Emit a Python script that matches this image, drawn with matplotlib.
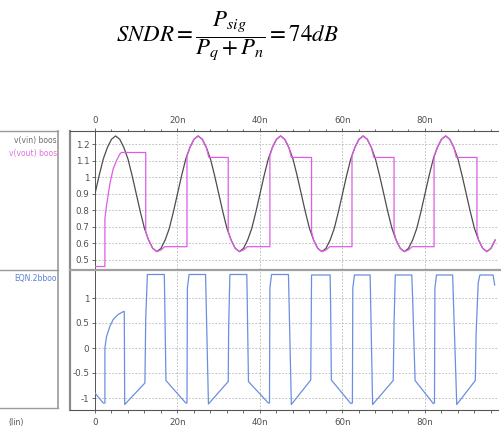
import numpy as np
import matplotlib
matplotlib.use("Agg")
from matplotlib import pyplot as plt
from matplotlib.lines import Line2D
from matplotlib.ticker import FixedLocator, MultipleLocator

# v(vin) every 1n (time in ns)
vin_t = np.arange(98)
vin_v = [0.90, 1.01, 1.11, 1.18, 1.23, 1.25, 1.23, 1.18, 1.11, 1.01, 0.90, 0.79, 0.69, 0.62, 0.57, 0.55, 0.57, 0.62, 0.69, 0.79,
         0.90, 1.01, 1.11, 1.18, 1.23, 1.25, 1.23, 1.18, 1.11, 1.01, 0.90, 0.79, 0.69, 0.62, 0.57, 0.55, 0.57, 0.62, 0.69, 0.79,
         0.90, 1.01, 1.11, 1.18, 1.23, 1.25, 1.23, 1.18, 1.11, 1.01, 0.90, 0.79, 0.69, 0.62, 0.57, 0.55, 0.57, 0.62, 0.69, 0.79,
         0.90, 1.01, 1.11, 1.18, 1.23, 1.25, 1.23, 1.18, 1.11, 1.01, 0.90, 0.79, 0.69, 0.62, 0.57, 0.55, 0.57, 0.62, 0.69, 0.79,
         0.90, 1.01, 1.11, 1.18, 1.23, 1.25, 1.23, 1.18, 1.11, 1.01, 0.90, 0.79, 0.69, 0.62, 0.57, 0.55, 0.57, 0.62]

# v(vout) track & hold output, (t [ns], V)
vout_pts = [(0, 0.46), (2.4, 0.46), (2.4, 0.75), (2.8, 0.83), (3.6, 0.96), (4.4, 1.05), (5.2, 1.10), (6.0, 1.14),
            (6.4, 1.15), (12.3, 1.15), (12.3, 0.67), (13, 0.62), (14, 0.57), (15, 0.55), (16, 0.56), (16.9, 0.58),
            (22.3, 0.58), (22.3, 1.13), (23, 1.18), (24, 1.23), (25, 1.25), (26, 1.23), (27, 1.18), (27.6, 1.12),
            (32.3, 1.12), (32.3, 0.67), (33, 0.62), (34, 0.57), (35, 0.55), (36, 0.56), (36.9, 0.58),
            (42.4, 0.58), (42.4, 1.13), (43, 1.18), (44, 1.23), (45, 1.25), (46, 1.23), (47, 1.18), (47.6, 1.12),
            (52.5, 1.12), (52.5, 0.67), (53, 0.62), (54, 0.57), (55, 0.55), (56, 0.56), (56.9, 0.58),
            (62.3, 0.58), (62.3, 1.13), (63, 1.18), (64, 1.23), (65, 1.25), (66, 1.23), (67, 1.18), (67.6, 1.12),
            (72.5, 1.12), (72.5, 0.67), (73, 0.62), (74, 0.57), (75, 0.55), (76, 0.56), (76.9, 0.58),
            (82.2, 0.58), (82.2, 1.13), (83, 1.18), (84, 1.23), (85, 1.25), (86, 1.23), (87, 1.18), (87.6, 1.12),
            (92.6, 1.12), (92.6, 0.67), (93, 0.62), (94, 0.57), (95, 0.55), (96, 0.57), (97, 0.62)]

# EQN.2b trace, (t [ns], value)
eqn_pts = [(0, -0.9), (1.0, -1.0), (2.0, -1.1), (2.4, -1.1), (2.4, 0.0), (2.8, 0.23), (3.6, 0.43), (4.4, 0.57),
           (5.6, 0.67), (6.9, 0.73), (7.1, 0.73), (7.2, -1.13), (12.1, -0.70), (12.3, 0.6), (12.7, 1.47),
           (16.8, 1.47), (16.9, 1.0), (17.2, -0.65), (22.0, -1.1), (22.3, -1.1), (22.4, 1.2), (22.8, 1.47),
           (26.8, 1.47), (27.5, -1.12), (32.3, -0.67), (32.4, 0.4), (32.7, 1.47), (36.8, 1.47), (36.9, 1.0),
           (37.2, -0.67), (42.0, -1.1), (42.3, -1.1), (42.4, 1.2), (42.8, 1.47), (46.9, 1.47), (47.6, -1.13),
           (52.3, -0.64), (52.5, 1.46), (57.0, 1.46), (57.1, 1.0), (57.3, -0.64), (62.0, -1.11), (62.4, -1.1),
           (62.5, 1.2), (62.9, 1.46), (66.7, 1.46), (67.3, -1.13), (72.3, -0.65), (72.5, 0.5), (72.8, 1.46),
           (76.8, 1.46), (77.0, 1.0), (77.6, -0.65), (82.0, -1.11), (82.3, -1.1), (82.4, 1.2), (82.8, 1.46),
           (86.7, 1.46), (87.7, -1.13), (92.2, -0.65), (92.4, 0.3), (92.9, 1.3), (93.3, 1.46), (96.5, 1.46),
           (96.9, 1.26)]

x_ticks = [0, 20, 40, 60, 80]
x_labels = ['0', '20n', '40n', '60n', '80n']
top_ticks = [0.5, 0.6, 0.7, 0.8, 0.9, 1.0, 1.1, 1.2]
top_labels = ['0.5', '0.6', '0.7', '0.8', '0.9', '1', '1.1', '1.2']
bot_ticks = [-1, -0.5, 0, 0.5, 1]
bot_labels = ['-1', '-0.5', '0', '0.5', '1']

plt.rcParams['mathtext.fontset'] = 'stix'

W, H = 502, 432
fig = plt.figure(figsize=(W / 100, H / 100), dpi=100)


def fx(px):
    return px / W


def fy(py):
    return 1 - py / H


ax1 = fig.add_axes([fx(95), fy(269), fx(498) - fx(95), fy(131) - fy(269)])
ax2 = fig.add_axes([fx(95), fy(410), fx(498) - fx(95), fy(270) - fy(410)])

vout = np.array(vout_pts)
eqn = np.array(eqn_pts)
ax1.plot(vin_t, vin_v, color='#4d4d4d', lw=0.9, zorder=3)
ax1.plot(vout[:, 0], vout[:, 1], color='#e05ce6', lw=0.9, zorder=4)
ax2.plot(eqn[:, 0], eqn[:, 1], color='#6b8fe0', lw=0.9, zorder=3)

ax1.set_ylim(0.445, 1.28)
ax2.set_ylim(-1.24, 1.56)

for ax, yt, yl in ((ax1, top_ticks, top_labels), (ax2, bot_ticks, bot_labels)):
    ax.set_xlim(0, 97.7)
    ax.xaxis.set_major_locator(FixedLocator(x_ticks))
    ax.xaxis.set_minor_locator(MultipleLocator(4))
    ax.set_xticklabels(x_labels)
    ax.set_yticks(yt)
    ax.set_yticklabels(yl)
    ax.grid(True, which='major', color='#b5b5b5', linestyle=(0, (2, 2)), linewidth=0.6)
    ax.tick_params(which='both', labelsize=6.3, colors='#505050', length=2.5, width=0.6, pad=1.5)
    ax.tick_params(which='minor', length=1.8)
    ax.spines['right'].set_visible(False)
    ax.spines['left'].set_color('#555555')
    ax.spines['left'].set_linewidth(0.7)
    ax.set_facecolor('none')

ax1.spines['bottom'].set_visible(False)
ax1.spines['top'].set_color('#555555')
ax1.xaxis.tick_top()
ax1.tick_params(axis='x', which='both', pad=1.5)
ax2.spines['top'].set_visible(False)
ax2.spines['bottom'].set_color('#555555')
ax2.xaxis.tick_bottom()
ax2.tick_params(axis='x', pad=3)

# frame of the waveform viewer
frame = [((0, 58), (131, 131), '#9a9a9a', 1.0),
         ((58, 58), (131, 408), '#9a9a9a', 1.2),
         ((0, 58), (270, 270), '#9a9a9a', 1.0),
         ((0, 58), (408, 408), '#9a9a9a', 1.0),
         ((70, 70), (131, 410), '#8a8a8a', 1.6),
         ((70, 95), (131, 131), '#555555', 0.8),
         ((70, 500), (269.5, 269.5), '#a0a0a0', 1.6),
         ((70, 95), (410, 410), '#555555', 0.8)]
for xs, ys, c, w in frame:
    fig.add_artist(Line2D([fx(x) for x in xs], [fy(y) for y in ys], color=c, lw=w,
                          transform=fig.transFigure))

fig.text(fx(57), fy(141), 'v(vin) boos', fontsize=5.5, color='#6a6a6a', ha='right', va='center')
fig.text(fx(57), fy(153), 'v(vout) boos', fontsize=5.5, color='#e070e0', ha='right', va='center')
fig.text(fx(57), fy(278), 'EQN.2bboo', fontsize=5.5, color='#5b7fd6', ha='right', va='center')
fig.text(fx(8), fy(422), '(lin)', fontsize=5.5, color='#505050', ha='left', va='center')

fig.text(fx(227), fy(42), r'$SNDR=\dfrac{P_{sig}}{P_q+P_n}=74dB$', fontsize=16.5,
         ha='center', va='baseline')

fig.savefig('out.png', dpi=100)
